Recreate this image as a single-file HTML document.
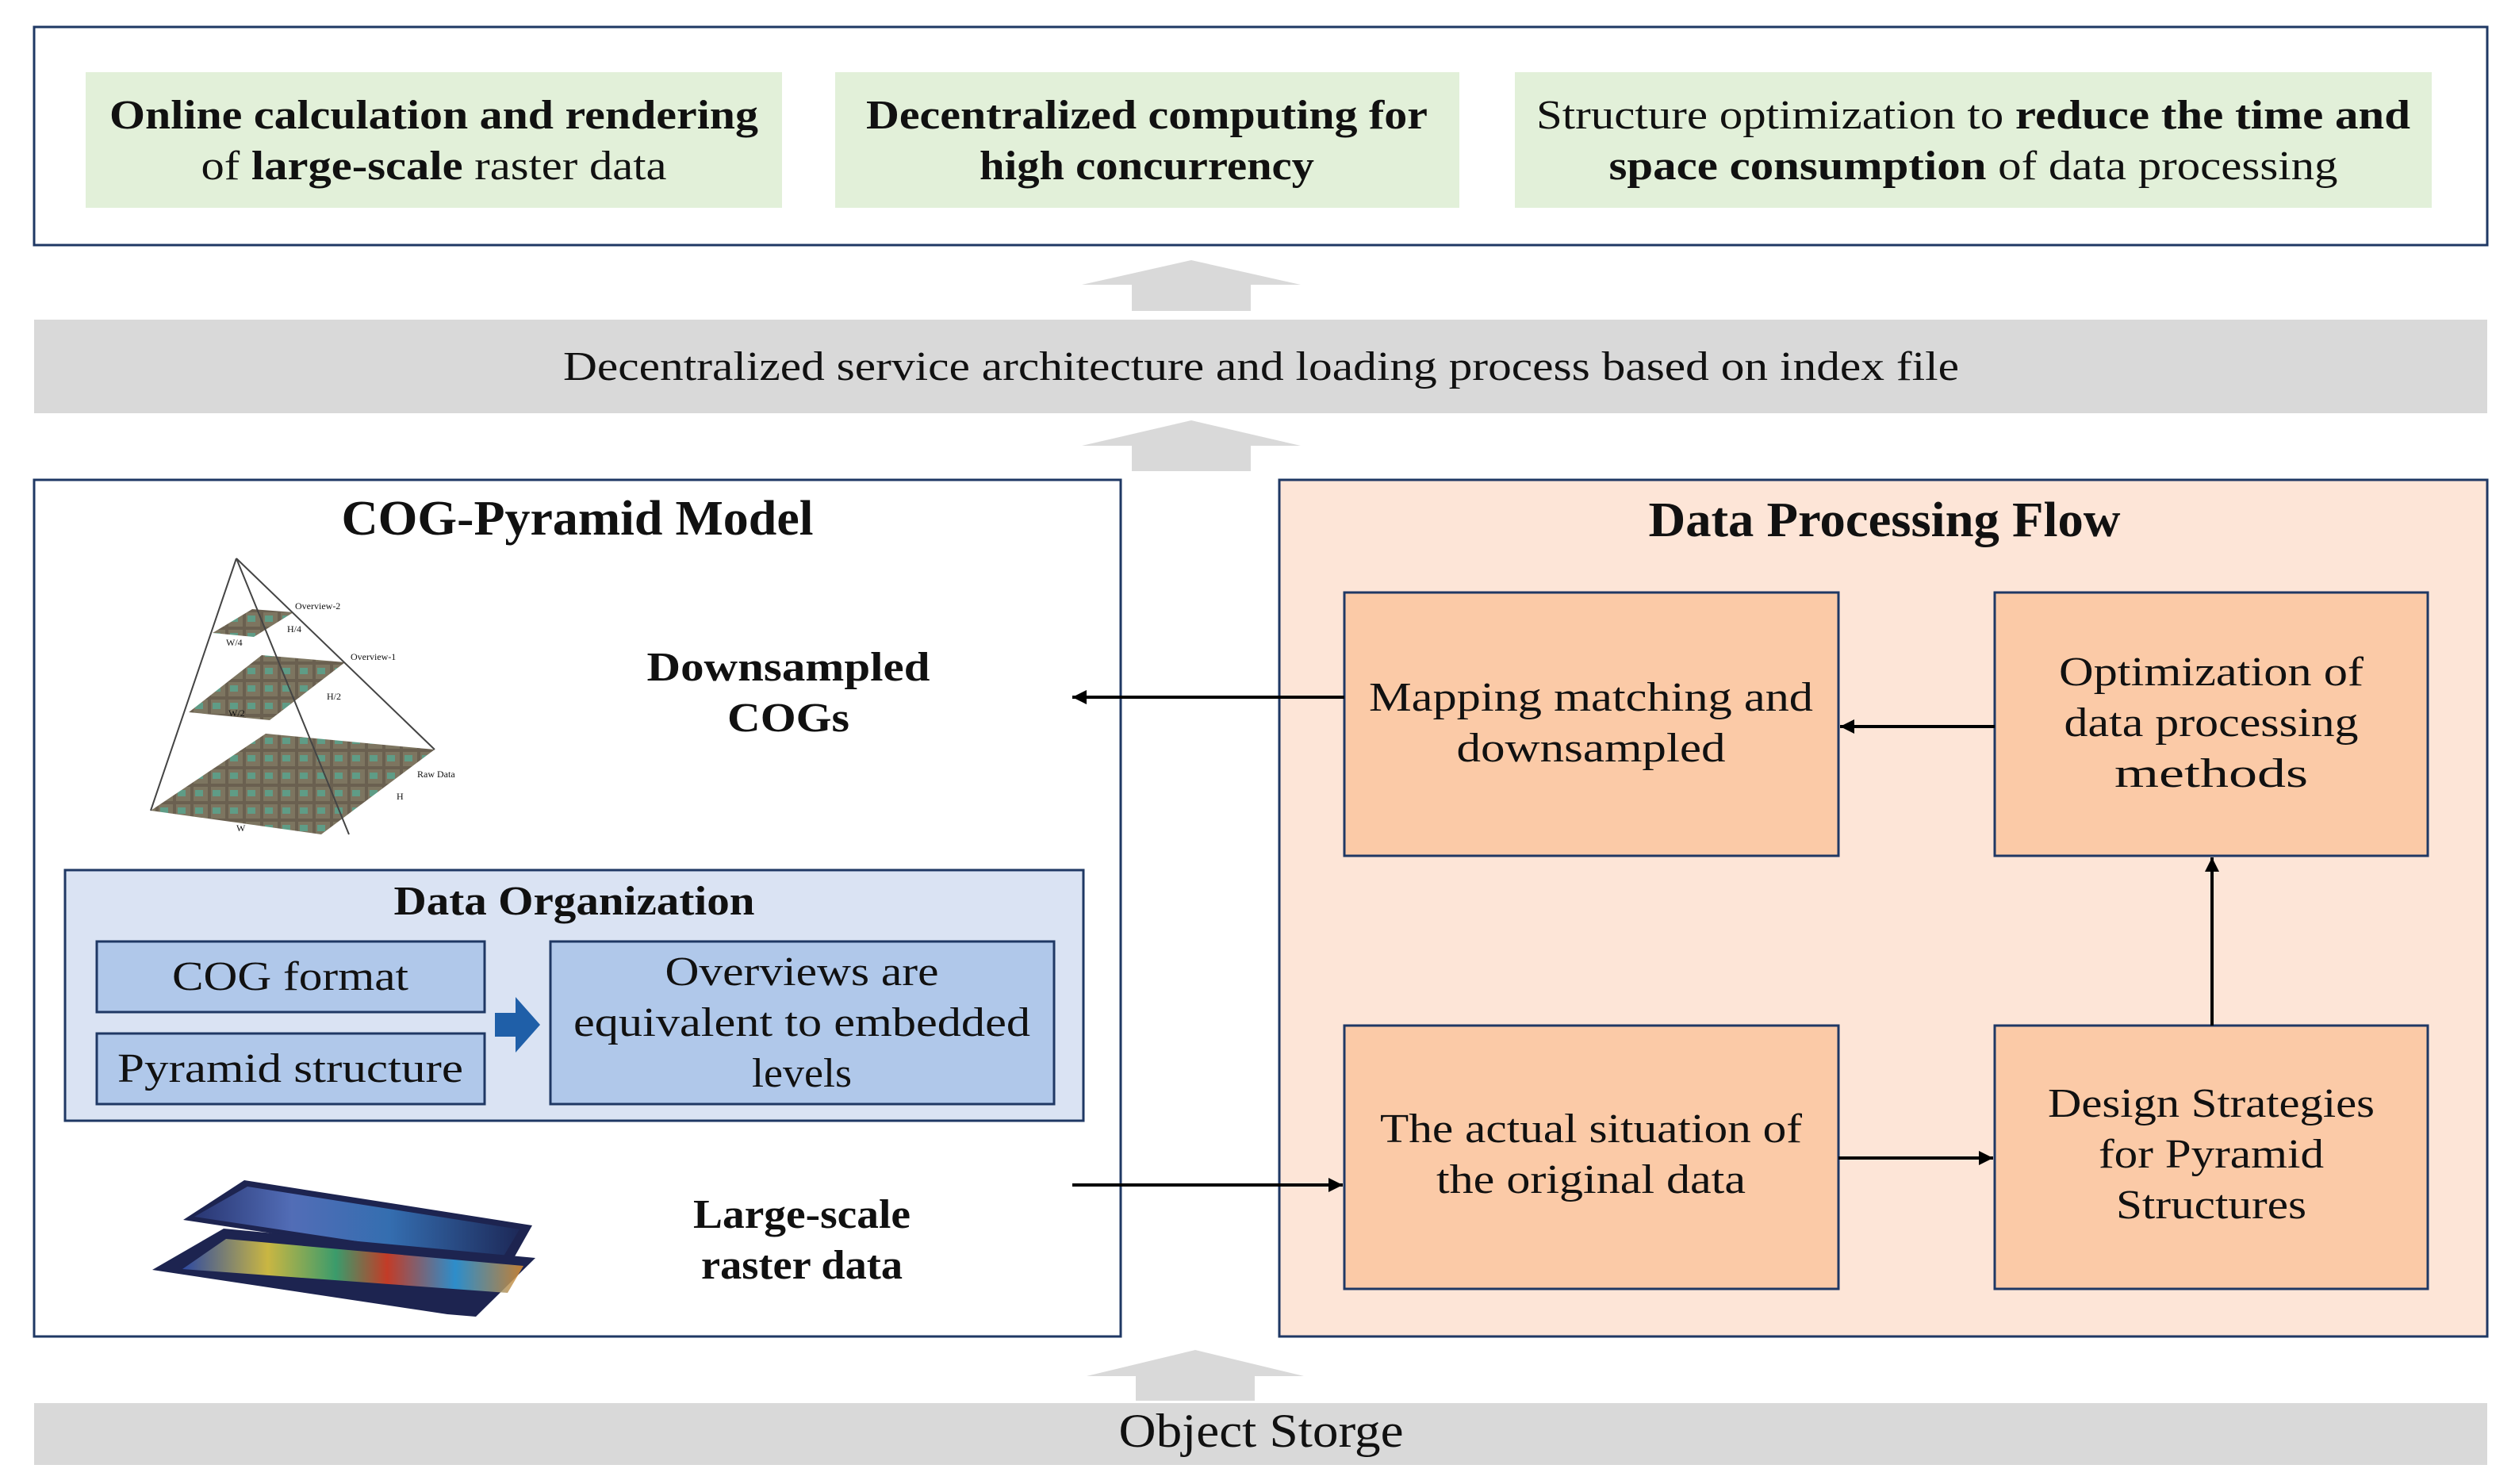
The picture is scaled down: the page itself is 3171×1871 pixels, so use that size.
<!DOCTYPE html>
<html><head><meta charset="utf-8"><style>
html,body{margin:0;padding:0;background:#fff}
svg{display:block}
text{font-family:"Liberation Serif",serif;fill:#111}
.b{font-weight:bold}
</style></head><body>
<svg width="3171" height="1871" viewBox="0 0 3171 1871" xmlns="http://www.w3.org/2000/svg">
<defs>
<marker id="ah2" viewBox="0 0 10 10" markerWidth="22" markerHeight="18" refX="10" refY="5" orient="auto" markerUnits="userSpaceOnUse">
<path d="M0,0 L10,5 L0,10 Z" fill="#000"/></marker>
<pattern id="tiles" width="22" height="22" patternUnits="userSpaceOnUse">
<rect width="22" height="22" fill="#6a6050"/><rect x="2" y="2" width="18" height="18" fill="#7d7560"/><rect x="4" y="6" width="10" height="8" fill="#5f9c86"/></pattern>
<linearGradient id="rast1" x1="0" y1="0" x2="1" y2="0"><stop offset="0" stop-color="#2b3a7a"/><stop offset=".3" stop-color="#5f7fd0"/><stop offset=".6" stop-color="#3a80c8"/><stop offset="1" stop-color="#1d2a5a"/></linearGradient>
<linearGradient id="rast2" x1="0" y1="0" x2="1" y2="0"><stop offset="0" stop-color="#3050b0"/><stop offset=".25" stop-color="#e8d040"/><stop offset=".45" stop-color="#40b070"/><stop offset=".6" stop-color="#e04020"/><stop offset=".8" stop-color="#30a0e0"/><stop offset="1" stop-color="#e09030"/></linearGradient>
</defs>

<!-- Top box -->
<rect x="43" y="34" width="3093" height="275" fill="#fff" stroke="#1f3864" stroke-width="3"/>
<rect x="108" y="91" width="878" height="171" fill="#e2f0d9"/>
<rect x="1053" y="91" width="787" height="171" fill="#e2f0d9"/>
<rect x="1910" y="91" width="1156" height="171" fill="#e2f0d9"/>
<g font-size="52" text-anchor="middle" lengthAdjust="spacingAndGlyphs">
<text x="547" y="162" class="b" textLength="818" lengthAdjust="spacingAndGlyphs">Online calculation and rendering</text>
<text x="547" y="226" textLength="587" lengthAdjust="spacingAndGlyphs">of <tspan class="b">large-scale</tspan> raster data</text>
<text x="1446" y="162" class="b" textLength="708" lengthAdjust="spacingAndGlyphs">Decentralized computing for</text>
<text x="1446" y="226" class="b" textLength="422" lengthAdjust="spacingAndGlyphs">high concurrency</text>
<text x="2488" y="162" textLength="1102" lengthAdjust="spacingAndGlyphs">Structure optimization to <tspan class="b">reduce the time and</tspan></text>
<text x="2488" y="226" textLength="919" lengthAdjust="spacingAndGlyphs"><tspan class="b">space consumption</tspan> of data processing</text>
</g>

<!-- Grey arrows -->
<path d="M1427,392 L1427,359 L1364,359 L1502,328 L1640,359 L1577,359 L1577,392 Z" fill="#d9d9d9"/>
<path d="M1427,594 L1427,562 L1364,562 L1502,530 L1640,562 L1577,562 L1577,594 Z" fill="#d9d9d9"/>
<path d="M1432,1766 L1432,1735 L1370,1735 L1507,1702 L1644,1735 L1582,1735 L1582,1766 Z" fill="#d9d9d9"/>

<!-- Grey band -->
<rect x="43" y="403" width="3093" height="118" fill="#d9d9d9"/>
<text x="1590" y="479" font-size="52" text-anchor="middle" textLength="1760" lengthAdjust="spacingAndGlyphs">Decentralized service architecture and loading process based on index file</text>

<!-- COG-Pyramid Model -->
<rect x="43" y="605" width="1370" height="1080" fill="#fff" stroke="#1f3864" stroke-width="3"/>
<text x="728" y="674" font-size="62" text-anchor="middle" class="b" textLength="595" lengthAdjust="spacingAndGlyphs">COG-Pyramid Model</text>

<g>
<polygon points="190,1022 405,1052 548,945 335,925" fill="url(#tiles)"/>
<polygon points="238,898 340,908 435,835 330,826" fill="url(#tiles)"/>
<polygon points="268,798 320,803 370,772 318,768" fill="url(#tiles)"/>
<g fill="none" stroke="#444" stroke-width="2">
<line x1="298" y1="704" x2="190" y2="1022"/>
<line x1="298" y1="704" x2="548" y2="945"/>
<line x1="298" y1="704" x2="440" y2="1052"/>
</g>
<g font-size="12" fill="#333">
<text x="372" y="768">Overview-2</text><text x="442" y="832">Overview-1</text>
<text x="526" y="980">Raw Data</text><text x="362" y="797">H/4</text><text x="285" y="814">W/4</text>
<text x="412" y="882">H/2</text><text x="288" y="903">W/2</text><text x="500" y="1008">H</text><text x="298" y="1048">W</text>
</g>
</g>
<text x="994" y="858" font-size="52" text-anchor="middle" class="b" textLength="357" lengthAdjust="spacingAndGlyphs">Downsampled</text>
<text x="994" y="922" font-size="52" text-anchor="middle" class="b" textLength="154" lengthAdjust="spacingAndGlyphs">COGs</text>

<!-- Data Organization -->
<rect x="82" y="1097" width="1284" height="316" fill="#dae3f3" stroke="#1f3864" stroke-width="3"/>
<text x="724" y="1153" font-size="52" text-anchor="middle" class="b" textLength="455" lengthAdjust="spacingAndGlyphs">Data Organization</text>
<rect x="122" y="1187" width="489" height="89" fill="#b0c8ea" stroke="#1f3864" stroke-width="3"/>
<rect x="122" y="1303" width="489" height="89" fill="#b0c8ea" stroke="#1f3864" stroke-width="3"/>
<rect x="694" y="1187" width="635" height="205" fill="#b0c8ea" stroke="#1f3864" stroke-width="3"/>
<text x="366" y="1248" font-size="52" text-anchor="middle" textLength="298" lengthAdjust="spacingAndGlyphs">COG format</text>
<text x="366" y="1364" font-size="52" text-anchor="middle" textLength="436" lengthAdjust="spacingAndGlyphs">Pyramid structure</text>
<text x="1011" y="1242" font-size="52" text-anchor="middle" textLength="345" lengthAdjust="spacingAndGlyphs">Overviews are</text>
<text x="1011" y="1306" font-size="52" text-anchor="middle" textLength="576" lengthAdjust="spacingAndGlyphs">equivalent to embedded</text>
<text x="1011" y="1370" font-size="52" text-anchor="middle" textLength="126" lengthAdjust="spacingAndGlyphs">levels</text>
<path d="M624,1277 L650,1277 L650,1257 L681,1292 L650,1327 L650,1307 L624,1307 Z" fill="#1f5fa8"/>

<!-- raster layers -->
<polygon points="308,1488 671,1545 640,1600 231,1538" fill="#1d2450"/>
<polygon points="312,1496 655,1550 630,1592 245,1534" fill="url(#rast1)" opacity=".8"/>
<polygon points="282,1549 675,1586 600,1660 564,1657 192,1601" fill="#1d2450"/>
<polygon points="285,1562 660,1596 640,1630 230,1600" fill="url(#rast2)" opacity=".85"/>
<text x="1011" y="1548" font-size="52" text-anchor="middle" class="b" textLength="274" lengthAdjust="spacingAndGlyphs">Large-scale</text>
<text x="1011" y="1612" font-size="52" text-anchor="middle" class="b" textLength="254" lengthAdjust="spacingAndGlyphs">raster data</text>

<!-- Data Processing Flow -->
<rect x="1613" y="605" width="1523" height="1080" fill="#fde5d7" stroke="#1f3864" stroke-width="3"/>
<text x="2376" y="676" font-size="62" text-anchor="middle" class="b" textLength="595" lengthAdjust="spacingAndGlyphs">Data Processing Flow</text>
<g fill="#fbcaa7" stroke="#1f3864" stroke-width="3">
<rect x="1695" y="747" width="623" height="332"/>
<rect x="2515" y="747" width="546" height="332"/>
<rect x="1695" y="1293" width="623" height="332"/>
<rect x="2515" y="1293" width="546" height="332"/>
</g>
<g font-size="52" text-anchor="middle">
<text x="2006" y="896" textLength="560" lengthAdjust="spacingAndGlyphs">Mapping matching and</text>
<text x="2006" y="960" textLength="339" lengthAdjust="spacingAndGlyphs">downsampled</text>
<text x="2788" y="864" textLength="384" lengthAdjust="spacingAndGlyphs">Optimization of</text>
<text x="2788" y="928" textLength="371" lengthAdjust="spacingAndGlyphs">data processing</text>
<text x="2788" y="992" textLength="244" lengthAdjust="spacingAndGlyphs">methods</text>
<text x="2006" y="1440" textLength="532" lengthAdjust="spacingAndGlyphs">The actual situation of</text>
<text x="2006" y="1504" textLength="390" lengthAdjust="spacingAndGlyphs">the original data</text>
<text x="2788" y="1408" textLength="412" lengthAdjust="spacingAndGlyphs">Design Strategies</text>
<text x="2788" y="1472" textLength="284" lengthAdjust="spacingAndGlyphs">for Pyramid</text>
<text x="2788" y="1536" textLength="240" lengthAdjust="spacingAndGlyphs">Structures</text>
</g>

<!-- connectors -->
<g stroke="#000" stroke-width="4" fill="none">
<line x1="1695" y1="879" x2="1352" y2="879" marker-end="url(#ah2)"/>
<line x1="2515" y1="916" x2="2320" y2="916" marker-end="url(#ah2)"/>
<line x1="2789" y1="1293" x2="2789" y2="1081" marker-end="url(#ah2)"/>
<line x1="2318" y1="1460" x2="2513" y2="1460" marker-end="url(#ah2)"/>
<line x1="1352" y1="1494" x2="1693" y2="1494" marker-end="url(#ah2)"/>
</g>

<!-- Object storage -->
<rect x="43" y="1769" width="3093" height="78" fill="#d9d9d9"/>
<text x="1590" y="1824" font-size="60" text-anchor="middle" textLength="359" lengthAdjust="spacingAndGlyphs">Object Storge</text>
</svg>
</body></html>
